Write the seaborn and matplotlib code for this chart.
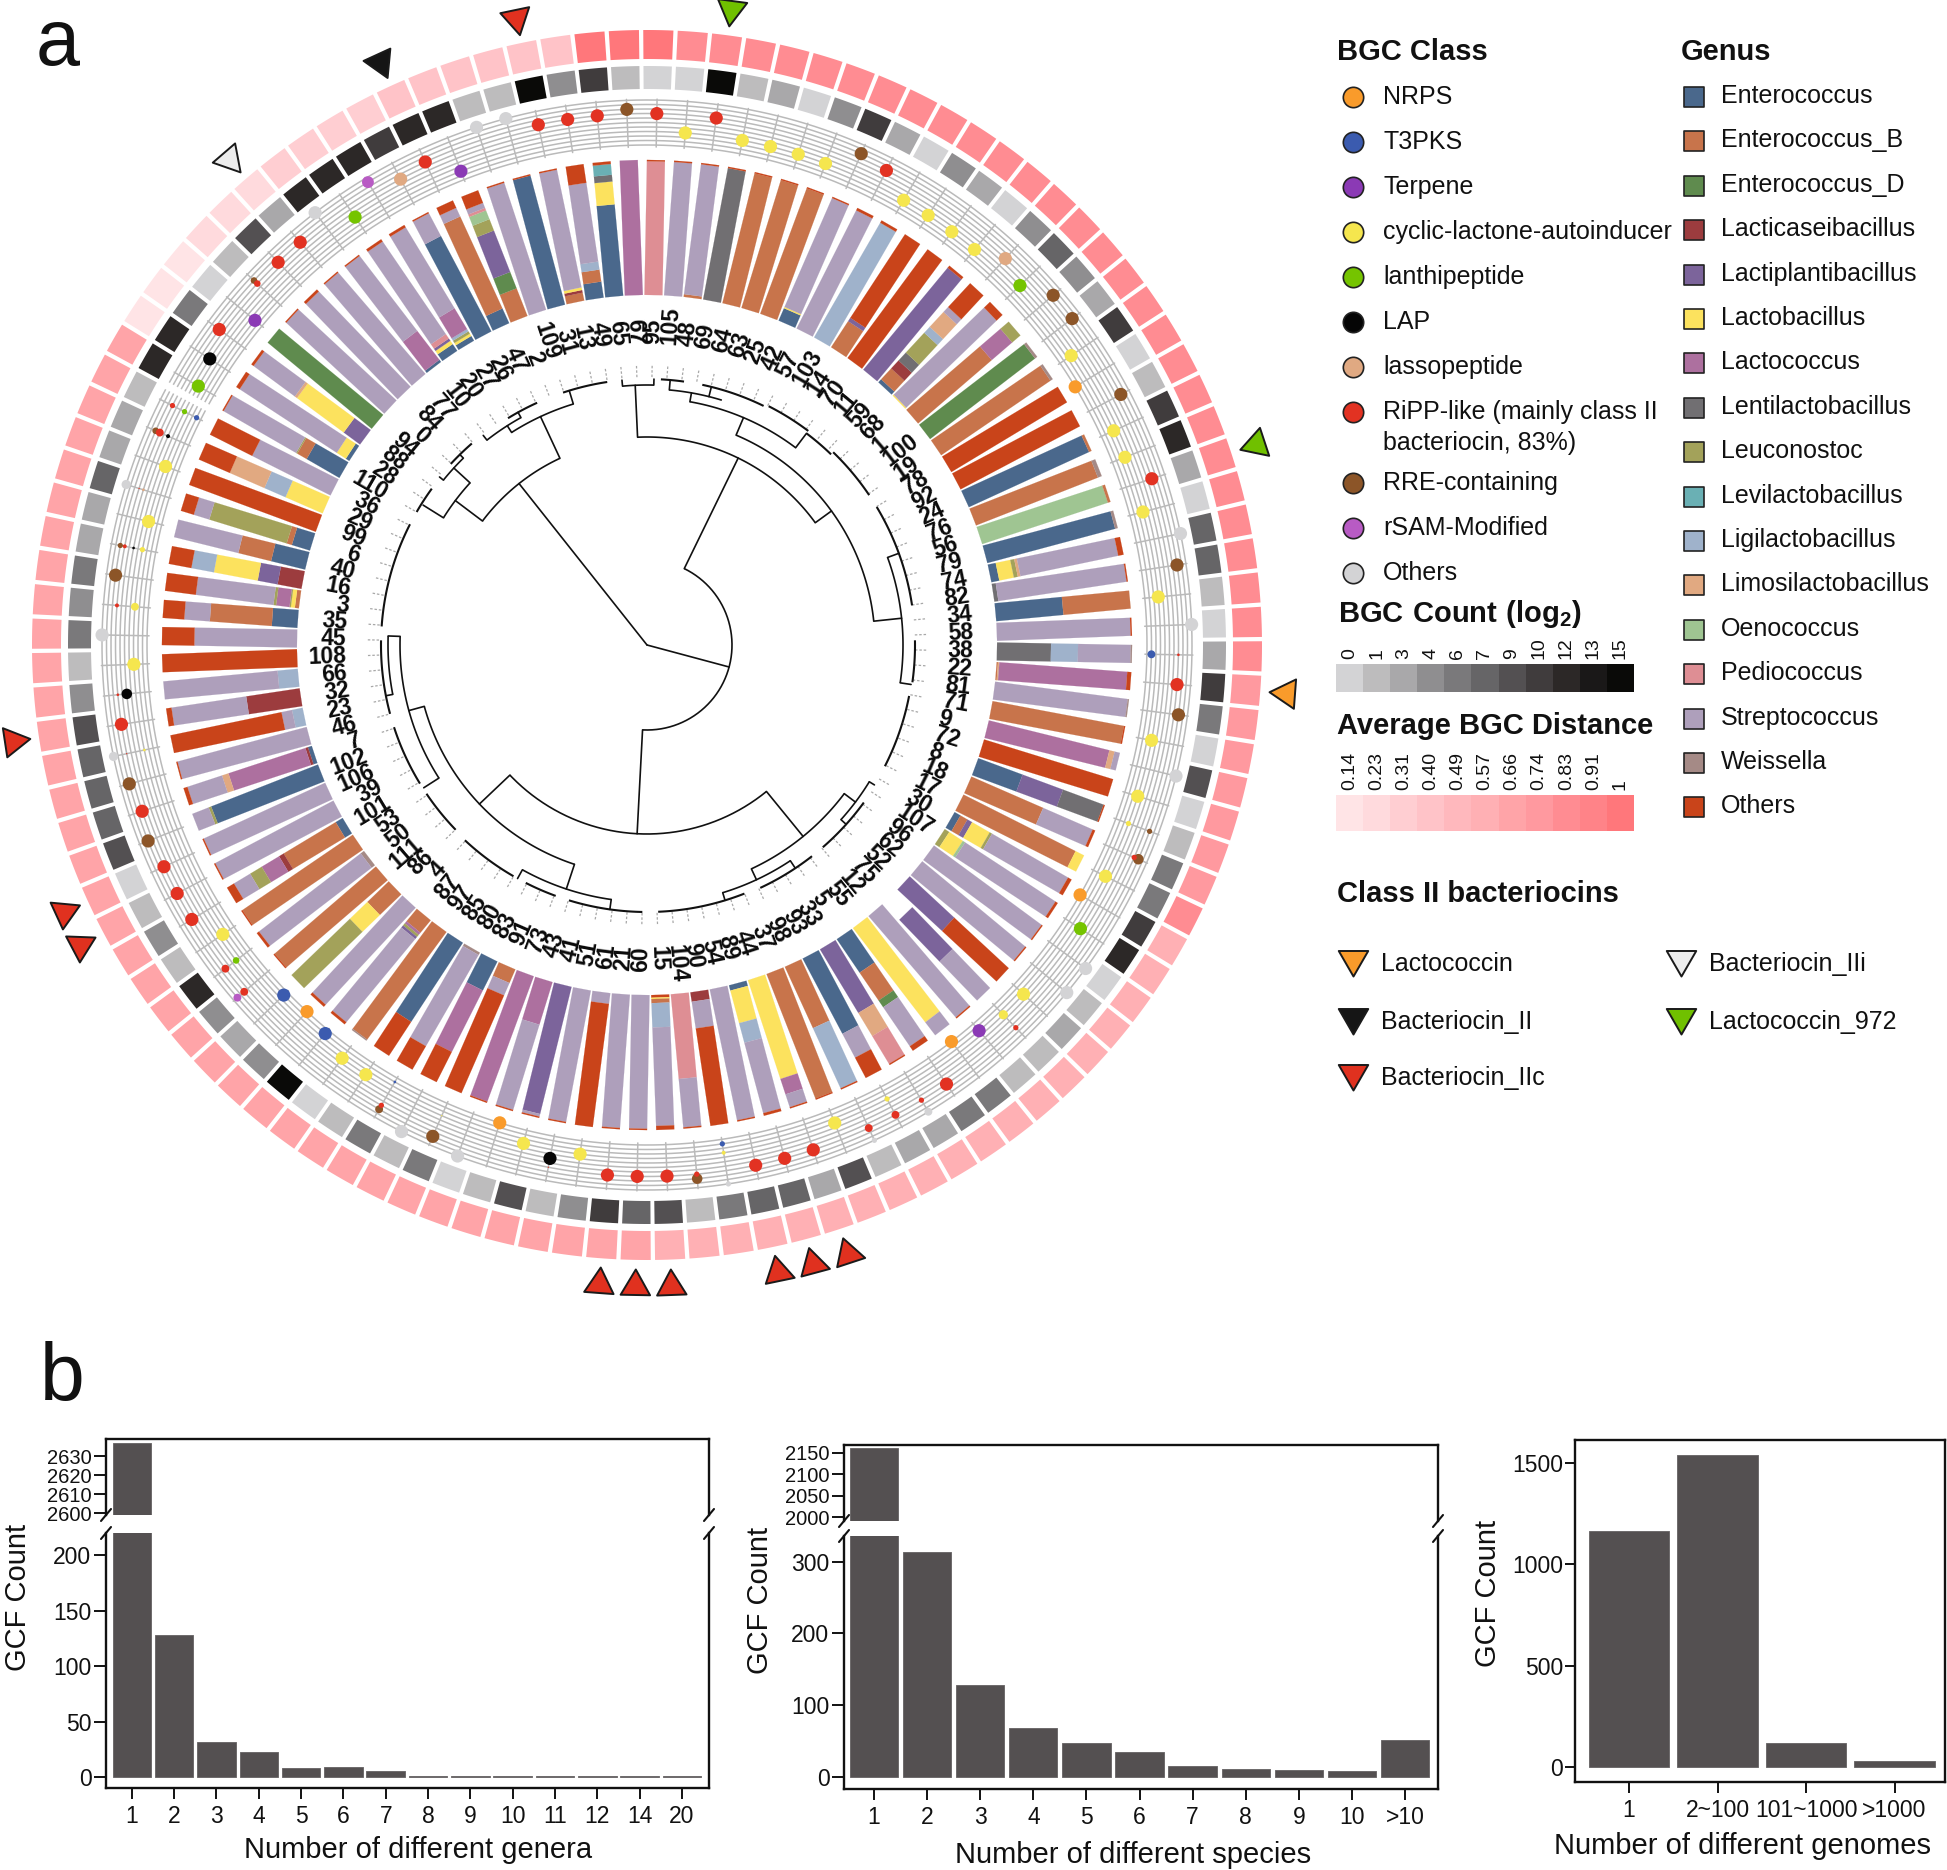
import numpy as np
import matplotlib
matplotlib.use('Agg')
import matplotlib.pyplot as plt
from matplotlib.patches import Polygon, Rectangle
import seaborn as sns

sns.set_theme(style='ticks')
plt.rcParams['font.family'] = ['Liberation Sans', 'DejaVu Sans']
plt.rcParams['mathtext.fontset'] = 'custom'
plt.rcParams['mathtext.bf'] = 'Liberation Sans:bold'
plt.rcParams['mathtext.rm'] = 'Liberation Sans'

W, H = 1947, 1870

# ---- panel a data, clockwise from the top ----
gcf_labels = [95, 105, 48, 69, 64, 63, 25, 42, 57, 103, 14, 70, 11, 59, 68, 1, 100, 19, 78, 92, 24, 76, 56, 79, 74, 82, 34, 58,
              38, 22, 81, 71, 9, 72, 8, 18, 17, 30, 107, 96, 62, 52, 75, 12, 55, 5, 33, 93, 98, 37, 44, 89, 54, 90, 104, 15,
              60, 21, 61, 51, 41, 43, 73, 91, 83, 80, 85, 97, 87, 4, 86, 111, 50, 53, 101, 39, 106, 102, 7, 46, 23, 32, 66, 108,
              45, 35, 3, 16, 40, 6, 99, 29, 36, 110, 28, 88, 94, 0, 84, 77, 10, 20, 27, 26, 47, 2, 109, 31, 13, 49, 65, 67]

# genus mix of each family, inner to outer, code + percent (X = empty)
genus_mix = [
    "Q99 O1", "S99 O1", "B2 S97 O1", "G99 O1", "B99 O1", "B99 O1", "B99 O1", "E10 Y1 S88 O1", "S98 O2", "I98 O2",
    "B23 P3 O74", "O100", "P98 O2", "E3 B11 C8 G8 U20 I6 M15 S5 O24", "Y1 S93 O6", "B72 K20 U8", "D98 W2", "B98 W2", "O100", "O100",
    "E98 B2", "B97 W3", "N98 B2", "E98 W2", "E6 Y11 U3 M2 S74 O4", "G3 S96 O1", "E50 B50", "S99 O1", "G40 I20 S39 W1", "B1 M1 K95 O3",
    "S99 W1", "B99 O1", "K92 M4 S4", "O100", "E35 P32 G32 O1", "B58 S40 O2", "B93 Y7", "E5 B6 P4 Y15 U2 S65 O3", "U4 Y12 N2 S80 O2", "S99 O1",
    "S99 O1", "P45 O55", "X17 P43 S40", "S99 O1", "Y88 S12", "E30 B25 D6 S35 O4", "P55 M20 Q24 O1", "E63 S20 O17", "B50 I49 O1", "B99 O1",
    "Y77 K12 S10 O1", "E4 Y25 I15 S54 O2", "S99 O1", "C7 S20 O73", "Q63 S36 O1", "O2 Y1 B3 I18 S73 O3", "S99 O1", "S99 O1", "S8 O92", "S99 O1",
    "P97 S2 O1", "K33 S66 O1", "K99 O1", "B11 S10 O79", "E24 K51 O25", "W2 S78 O20", "E70 O30", "B99 W1", "B12 K2 U2 P2 S80 O2", "S98 O2",
    "B22 Y18 U60", "B99 O1", "W3 S95 O2", "B99 O1", "E6 B45 C4 K15 U10 S14 O6", "S99 O1", "S99 O1", "E85 U2 S13", "E3 C2 K60 M5 S27 O3", "S99 O1",
    "I8 S8 O84", "C40 S56 O4", "I15 S85", "O100", "S76 O24", "E19 B46 S19 O16", "B3 Y3 U1 K10 U2 S58 O23", "C18 P15 Y33 I17 O17", "E26 B25 S49", "E14 B4 U60 S12 O10",
    "O100", "Y30 I17 M28 O25", "S65 O35", "E28 B8 U1 S62 O1", "E3 Y8 S86 O3", "P15 Y43 M2 S38 O2", "D100", "S99 O1", "S98 O2", "S99 O1",
    "E2 K27 S70 O1", "E6 Y3 P2 Q4 S83 O2", "E4 Y2 U2 I2 K18 S70 O2", "E80 S19 O1", "E12 B75 S7 O6", "B22 D13 P33 U9 N7 Q2 S4 O10", "S99 O1", "E99 O1", "B6 C2 Y2 S89 O1", "E12 B9 I6 S59 O14",
    "E68 Y17 G5 V8 O2", "K100",
]

# BGC class dots of each family, code + relative size
class_dots = [
    "R", "Y", "R", "Y", "Y", "Y", "Y", "E", "R", "Y",
    "Y", "Y", "Y", "A", "L", "E", "E", "Y", "N", "E",
    "Y", "Y", "R", "Y", "O", "E", "Y", "O", "T.6 R.2", "R",
    "E", "Y", "O", "Y", "Y.4 E.4", "E.8 R.4", "Y", "N", "L", "O",
    "O", "Y", "Y.7 R.4", "P", "N", "R", "R.4 O.6", "Y.4 R.6", "R.6 O.4", "Y",
    "R", "R", "R", "T.4 Y.3 O.4", "E.8 R.4", "R", "R", "R", "Y", "B R.1",
    "Y", "N", "O", "E Y.1", "O", "T.2 E.6 R.4", "Y", "Y", "T", "N",
    "T", "R.6 S.6", "R.6 L.5", "Y", "R", "R", "R", "E", "R", "E",
    "O.7 R.1 Y.2", "R", "B.8 R.2", "Y", "O", "Y.6 R.3", "E", "E.4 R.3 B.2 Y.4", "Y", "O.7 R.1 A.2",
    "Y", "E.5 R.6 B.3", "R.4 L.4 T.4", "L", "B", "R", "P", "E.5 R.5", "R", "R",
    "O", "L", "S.9", "A", "R", "P", "O", "O", "R", "R",
    "R", "E",
]

# BGC count ring, index into count_ticks
count_level = [0, 0, 10, 1, 2, 0, 3, 7, 2, 0, 3, 2, 0, 3, 5, 3, 2, 7, 0, 1,
               7, 8, 2, 0, 5, 5, 1, 0, 2, 7, 4, 0, 6, 0, 1, 4, 4, 7, 8, 0,
               1, 2, 1, 1, 4, 4, 2, 2, 1, 6, 2, 5, 5, 4, 1, 6, 5, 7, 3, 1,
               6, 1, 0, 4, 1, 4, 1, 0, 10, 3, 2, 3, 8, 1, 3, 1, 0, 6, 5, 5,
               5, 6, 3, 1, 4, 3, 4, 2, 2, 5, 2, 2, 1, 8, 8, 4, 0, 1, 6, 2,
               8, 8, 8, 7, 8, 8, 1, 1, 10, 3, 7, 1]
# distance ring, index into dist_ticks
dist_level = [10, 8, 8, 8, 8, 8, 8, 8, 8, 8, 8, 8, 8, 8, 8, 8, 8, 8, 8, 8,
              8, 8, 8, 8, 8, 8, 8, 8, 8, 7, 7, 7, 7, 7, 7, 7, 8, 5, 5, 5,
              5, 5, 5, 5, 5, 5, 5, 5, 5, 5, 5, 5, 5, 5, 5, 5, 6, 6, 6, 6,
              6, 6, 6, 6, 6, 6, 6, 6, 6, 6, 6, 6, 6, 6, 6, 6, 6, 6, 6, 6,
              6, 6, 6, 6, 6, 6, 6, 6, 6, 6, 6, 6, 6, 6, 0, 0, 0, 1, 1, 1,
              2, 2, 2, 2, 3, 3, 3, 3, 3, 3, 10, 10]

# class II bacteriocin flags: (family index, type)
flag_sector = [2, 22, 29, 50, 51, 52, 55, 56, 57, 75, 76, 81, 99, 104, 108]
flag_type = ['972', '972', 'lac', 'IIc', 'IIc', 'IIc', 'IIc', 'IIc', 'IIc', 'IIc', 'IIc', 'IIc', 'IIi', 'II', 'IIc']

# dendrogram: arcs (radius, from deg, to deg), radial lines (deg, r0, r1)
tree_arcs = [(85, 26, 183), (208, -2.6, 54), (260, -5.4, 1.5), (228, 23, 84), (247, 10, 37), (256, 5, 17), (256, 70, 98.5),
             (189, 140.8, 226.5), (247, 127, 155), (261, 121.6, 132), (259, 146.4, 163), (231, 198.3, 254.6), (257, 188, 209),
             (247, 237.4, 272), (259, 259, 272), (206, 307, 335), (240, 302, 312.5), (262, 309, 315.5), (252, 327.5, 343), (260, 322, 331)]
tree_rads = [(105, 0, 85), (26, 85, 208), (-2.6, 208, 260), (54, 208, 228), (23, 228, 247), (10, 247, 256), (37, 247, 265),
             (84, 228, 256), (70, 256, 268), (98.5, 256, 267), (183, 85, 189), (140.8, 189, 247), (127, 247, 261), (121.6, 261, 267),
             (132, 261, 268), (155, 247, 259), (146.4, 259, 268), (163, 259, 267), (226.5, 189, 231), (198.3, 231, 257), (188, 257, 267),
             (209, 257, 267), (254.6, 231, 247), (237.4, 247, 265), (272, 247, 259), (259, 259, 266), (321.6, 0, 206), (307, 206, 240),
             (302, 240, 264), (312.5, 240, 262), (309, 262, 267), (315.5, 262, 267), (335, 206, 252), (327.5, 252, 260), (322, 260, 266),
             (331, 260, 266), (343, 252, 266), (-5.4, 260, 266), (1.5, 260, 266), (5, 256, 266), (14, 256, 266)]
leaf_arcs = [(266, 3, 8), (266, 12, 26), (268, 27, 37), (265, 37, 44), (268, 44, 56), (268, 59, 81.5), (268, 89, 98), (267, 101, 107),
             (267, 107, 117), (268, 126, 139), (268, 142, 155), (267, 158.6, 177.6), (267, 181, 197), (267, 200, 207), (267, 210, 223),
             (266, 226, 236), (266, 238.6, 252), (266, 255, 271), (266, 274, 297), (266, 300, 306), (267, 312.7, 319), (266, 328.5, 335.6),
             (266, 341.6, 351.4)]

# legends
class_names = ['NRPS', 'T3PKS', 'Terpene', 'cyclic-lactone-autoinducer', 'lanthipeptide', 'LAP', 'lassopeptide',
               'RiPP-like (mainly class II\nbacteriocin, 83%)', 'RRE-containing', 'rSAM-Modified', 'Others']
class_codes = ['N', 'T', 'P', 'Y', 'L', 'B', 'A', 'R', 'E', 'S', 'O']
class_colors = ['#F99B2B', '#3B5BAF', '#8B3AB5', '#F5E64E', '#75C400', '#050505', '#E0A982', '#E23222', '#8C5528', '#B85BC4', '#D3D3D5']
genus_names = ['Enterococcus', 'Enterococcus_B', 'Enterococcus_D', 'Lacticaseibacillus', 'Lactiplantibacillus', 'Lactobacillus',
               'Lactococcus', 'Lentilactobacillus', 'Leuconostoc', 'Levilactobacillus', 'Ligilactobacillus', 'Limosilactobacillus',
               'Oenococcus', 'Pediococcus', 'Streptococcus', 'Weissella', 'Others']
genus_codes = ['E', 'B', 'D', 'C', 'P', 'Y', 'K', 'G', 'U', 'V', 'I', 'M', 'N', 'Q', 'S', 'W', 'O']
genus_colors = ['#4A688C', '#C8744B', '#5F8B4E', '#9C3C3E', '#7C649B', '#FCE25E', '#AD709F', '#716F72', '#A3A25A', '#6AB0B4',
                '#9FB2CB', '#E1A981', '#9FC592', '#DE8E94', '#AE9FBB', '#A58A86', '#C9441A']
count_ticks = ['0', '1', '3', '4', '6', '7', '9', '10', '12', '13', '15']
count_colors = ['#D3D3D5', '#BDBCBD', '#A9A8AA', '#8F8E90', '#7A797B', '#666567', '#535052', '#403C3D', '#2C2827', '#1A1818', '#0A0A08']
dist_ticks = ['0.14', '0.23', '0.31', '0.40', '0.49', '0.57', '0.66', '0.74', '0.83', '0.91', '1']
dist_colors = ['#FFE4E6', '#FFDADD', '#FFCED2', '#FFC3C8', '#FFB8BD', '#FFB0B4', '#FFA4A8', '#FF999F', '#FF8C92', '#FF8388', '#FF777B']
bacteriocin_names = ['Lactococcin', 'Bacteriocin_II', 'Bacteriocin_IIc', 'Bacteriocin_IIi', 'Lactococcin_972']
bacteriocin_keys = ['lac', 'II', 'IIc', 'IIi', '972']
bacteriocin_colors = ['#F99B2B', '#151515', '#E0311F', '#EDEDED', '#70C000']

# ---- panel b data ----
genera_cats = ['1', '2', '3', '4', '5', '6', '7', '8', '9', '10', '11', '12', '14', '20']
genera_vals = [2637, 128, 32, 23, 8, 9, 5, 1, 1, 1, 1, 1, 1, 1]
species_cats = ['1', '2', '3', '4', '5', '6', '7', '8', '9', '10', '>10']
species_vals = [2161, 313, 128, 68, 48, 35, 15, 11, 10, 8, 51]
genome_cats = ['1', '2~100', '101~1000', '>1000']
genome_vals = [1164, 1539, 118, 30]

CX, CY = 647, 645
N = len(gcf_labels)
STEP = 360 / N
START = -0.55
BAR_GREY = '#545051'

fig = plt.figure(figsize=(W / 100, H / 100), dpi=100, facecolor='white')
ov = fig.add_axes([0, 0, 1, 1], zorder=5)
ov.set_xlim(0, W)
ov.set_ylim(H, 0)
ov.set_axis_off()


def pol(r, deg):
    t = np.deg2rad(deg)
    return CX + r * np.sin(t), CY - r * np.cos(t)


def sec_deg(i):
    return START + (i + 0.5) * STEP


def wedge(r0, r1, a0, a1, color):
    aa = np.linspace(a0, a1, 6)
    xo, yo = pol(r1, aa)
    xi, yi = pol(r0, aa[::-1])
    ov.add_patch(Polygon(np.c_[np.r_[xo, xi], np.r_[yo, yi]], closed=True, fc=color, ec='none'))


def bar_seg(r0, r1, deg, width, color):
    t = np.deg2rad(deg)
    ux, uy = np.sin(t), -np.cos(t)
    px, py = np.cos(t) * width / 2, np.sin(t) * width / 2
    x0, y0 = pol(r0, deg)
    x1, y1 = x0 + ux * (r1 - r0), y0 + uy * (r1 - r0)
    pts = [(x0 - px, y0 - py), (x0 + px, y0 + py), (x1 + px, y1 + py), (x1 - px, y1 - py)]
    ov.add_patch(Polygon(pts, closed=True, fc=color, ec=color, lw=0.1))


def arc(r, a0, a1, **kw):
    aa = np.linspace(a0, a1, max(int(abs(a1 - a0) * 2), 2))
    x, y = pol(r, aa)
    ov.plot(x, y, solid_capstyle='butt', **kw)


# outer rings
for i in range(N):
    a0, a1 = START + i * STEP + 0.2, START + (i + 1) * STEP - 0.2
    wedge(586, 615, a0, a1, dist_colors[dist_level[i]])
    wedge(556, 579, a0, a1, count_colors[count_level[i]])

# dot track: one grid line per class
GRID_GREY = '#BABABA'
track_r = dict(zip(class_codes, np.linspace(500, 545, len(class_codes))))
for r in track_r.values():
    arc(r, START + 93 * STEP + 0.4, START + (93 + N) * STEP - 0.4, color=GRID_GREY, lw=1.1, zorder=1)
dot_x, dot_y, dot_s, dot_c = [], [], [], []
for i, spec in enumerate(class_dots):
    d = sec_deg(i)
    x, y = zip(pol(498, d), pol(546, d))
    ov.plot(x, y, color=GRID_GREY, lw=1.1, zorder=1)
    for tok in spec.split():
        size = float(tok[1:]) if len(tok) > 1 else 1.0
        px_, py_ = pol(track_r[tok[0]], d)
        dot_x.append(px_)
        dot_y.append(py_)
        dot_s.append(90 * size ** 2)
        dot_c.append(class_colors[class_codes.index(tok[0])])
ov.scatter(dot_x, dot_y, s=dot_s, c=dot_c, linewidths=0, zorder=3)

# stacked genus bars
R_IN, R_OUT = 350, 485
for i, spec in enumerate(genus_mix):
    parts = [(t[0], float(t[1:])) for t in spec.split()]
    total = sum(p[1] for p in parts)
    r = R_IN
    for code, pct in parts:
        r2 = r + (R_OUT - R_IN) * pct / total
        if code != 'X':
            bar_seg(r, r2, sec_deg(i), 18, genus_colors[genus_codes.index(code)])
        r = r2

# family labels
for i, lab in enumerate(gcf_labels):
    d = sec_deg(i)
    x, y = pol(301, d)
    if d < 180:
        ov.text(x, y, str(lab), rotation=90 - d, rotation_mode='anchor', ha='left', va='center',
                fontsize=16.5, fontweight='bold', color='#0A0A0A')
    else:
        ov.text(x, y, str(lab), rotation=270 - d, rotation_mode='anchor', ha='right', va='center',
                fontsize=16.5, fontweight='bold', color='#0A0A0A')

# dendrogram
for i in range(N):
    x, y = zip(pol(268, sec_deg(i)), pol(280, sec_deg(i)))
    ov.plot(x, y, color='#A8A8A8', lw=0.9, dashes=(2, 1.5))
for r, a0, a1 in tree_arcs:
    arc(r, a0, a1, color='#111111', lw=1.2)
for r, a0, a1 in leaf_arcs:
    arc(r, a0, a1, color='#111111', lw=1.5)
for a, r0, r1 in tree_rads:
    x, y = zip(pol(r0, a), pol(r1, a))
    ov.plot(x, y, color='#111111', lw=1.2)

# bacteriocin flags pointing at the ring
for i, kind in zip(flag_sector, flag_type):
    d = sec_deg(i)
    x, y = pol(641, d)
    ov.scatter([x], [y], marker=(3, 0, 180 - d), s=600, color=bacteriocin_colors[bacteriocin_keys.index(kind)],
               edgecolors='#1A1A1A', linewidths=1.4, zorder=4, clip_on=False)

ov.text(36, 65, 'a', fontsize=57, va='baseline', color='#111111')
ov.text(40, 1400, 'b', fontsize=58, va='baseline', color='#111111')

# ---- legends ----
TITLE = dict(fontsize=21, fontweight='bold', va='center', color='#111111')
ITEM = dict(fontsize=18, va='center', color='#111111')
ov.text(1337, 52, 'BGC Class', **TITLE)
ov.text(1681, 52, 'Genus', **TITLE)
class_y = [97, 142, 187, 232, 277, 322, 367, 412, 483, 528, 573]
for name, col, y in zip(class_names, class_colors, class_y):
    ov.scatter([1353], [y], s=215, color=col, edgecolors='#222222', linewidths=1.2)
    if '\n' in name:
        a, b = name.split('\n')
        ov.text(1383, y, a, **ITEM)
        ov.text(1383, y + 31, b, **ITEM)
    else:
        ov.text(1383, y, name, **ITEM)
for k, (name, col) in enumerate(zip(genus_names, genus_colors)):
    y = 97 + k * 44.4
    ov.scatter([1694], [y], s=215, marker='s', color=col, edgecolors='#222222', linewidths=1.2)
    ov.text(1721, y - 1, name, **ITEM)

ov.text(1338, 614, r'$\mathbf{BGC\ Count\ (log_2)}$', fontsize=21, va='center', color='#111111')
ov.text(1337, 726, 'Average BGC Distance', **TITLE)
cell = (1634 - 1336) / 11
for k in range(11):
    ov.add_patch(Rectangle((1336 + k * cell, 664), cell, 28, fc=count_colors[k], ec='none'))
    ov.add_patch(Rectangle((1336 + k * cell, 795), cell, 36, fc=dist_colors[k], ec='none'))
    ov.text(1336 + (k + 0.5) * cell, 659, count_ticks[k], rotation=90, ha='center', va='bottom', fontsize=14, color='#111111')
    ov.text(1336 + (k + 0.5) * cell, 790, dist_ticks[k], rotation=90, ha='center', va='bottom', fontsize=14, color='#111111')

ov.text(1337, 894, 'Class II bacteriocins', **TITLE)
tri_pos = [(1353, 959), (1353, 1017), (1353, 1073), (1681, 959), (1681, 1017)]
for (x, y), name, col in zip(tri_pos, bacteriocin_names, bacteriocin_colors):
    ov.scatter([x], [y], marker=(3, 0, 180), s=600, color=col, edgecolors='#1A1A1A', linewidths=1.4)
    ov.text(x + 28, y + 5, name, **ITEM)


# ---- panel b ----
def px_axes(x0, y0, x1, y1):
    return fig.add_axes([x0 / W, 1 - y1 / H, (x1 - x0) / W, (y1 - y0) / H])


def bars(ax, cats, vals, xlim, ylim, yticks):
    sns.barplot(x=cats, y=vals, ax=ax, color=BAR_GREY, saturation=1, width=0.91, order=cats,
                edgecolor='#6E6B6C', linewidth=0.7)
    ax.set_xlim(*xlim)
    ax.set_ylim(*ylim)
    ax.set_yticks(yticks)
    ax.set_ylabel('')
    ax.set_xlabel('')
    for s in ax.spines.values():
        s.set_linewidth(1.7)
        s.set_color('#111111')
    ax.tick_params(axis='y', length=9, width=1.4, labelsize=16.5, pad=1.5, color='#111111', labelcolor='#111111')
    ax.tick_params(axis='x', length=8, width=1.4, labelsize=16.5, pad=4, color='#111111', labelcolor='#111111')


def broken(x0, x1, top, split0, split1, bottom, cats, vals, xlim, up_lim, up_ticks, low_lim, low_ticks):
    up = px_axes(x0, top, x1, split0)
    low = px_axes(x0, split1, x1, bottom)
    bars(up, cats, vals, xlim, up_lim, up_ticks)
    bars(low, cats, vals, xlim, low_lim, low_ticks)
    up.spines['bottom'].set_visible(False)
    up.tick_params(axis='x', bottom=False, labelbottom=False)
    up.tick_params(axis='y', labelsize=14.5)
    low.spines['top'].set_visible(False)
    for x in (x0, x1):
        for y in (split0, split1):
            ov.plot([x - 5, x + 5], [y + 6, y - 6], color='#111111', lw=1.5)


broken(106, 709, 1439, 1515, 1533, 1788, genera_cats, genera_vals, (-0.61, 13.64),
       (2599, 2639), [2600, 2610, 2620, 2630], (-9.9, 220), [0, 50, 100, 150, 200])
broken(844, 1438, 1445, 1521, 1536, 1789, species_cats, species_vals, (-0.565, 10.62),
       (1991, 2168), [2000, 2050, 2100, 2150], (-16.7, 335.6), [0, 100, 200, 300])
g3 = px_axes(1575, 1440, 1945, 1782)
bars(g3, genome_cats, genome_vals, (-0.61, 3.57), (-74, 1613), [0, 500, 1000, 1500])
g3.tick_params(axis='y', length=7)

LABEL = dict(fontsize=21, ha='center', va='center', color='#111111')
ov.text(418, 1850, 'Number of different genera', **LABEL)
ov.text(1133, 1855, 'Number of different species', **LABEL)
ov.text(1742, 1846, 'Number of different genomes', **LABEL)
ov.text(18, 1597, 'GCF Count', rotation=90, **LABEL)
ov.text(760, 1600, 'GCF Count', rotation=90, **LABEL)
ov.text(1488, 1593, 'GCF Count', rotation=90, **LABEL)

fig.savefig('out.png', dpi=100, facecolor='white')
